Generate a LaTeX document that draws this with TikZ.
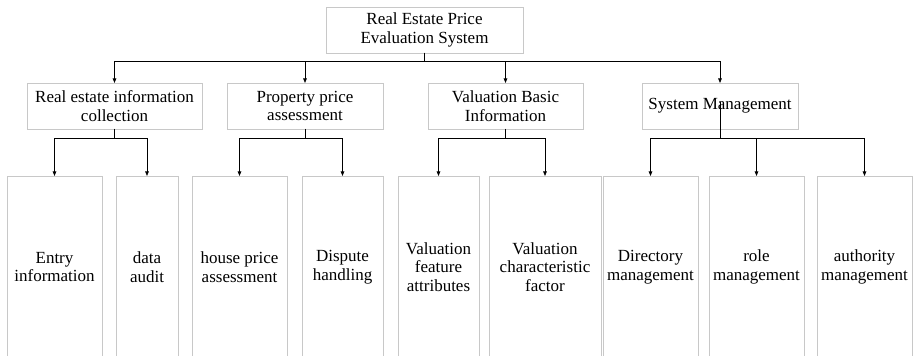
\documentclass[tikz,border=0pt]{standalone}
\usepackage{fontspec}
\setmainfont{Liberation Serif}
\usepackage{tikz}
\usetikzlibrary{arrows.meta, positioning}
\definecolor{boxGray}{HTML}{C8C8C8}

\begin{document}
\begin{tikzpicture}[
    x=1pt, y=1pt,
    box/.style={draw=boxGray, line width=0.8pt, align=center, inner sep=2pt,
                outer sep=0pt, font=\fontsize{17}{18.7}\selectfont},
    module/.style={box, minimum height=46pt},
    leaf/.style={box, minimum height=182pt},
    arrow/.style={-{Triangle[length=4.5pt, width=3.5pt]}, line width=0.8pt},
]
\useasboundingbox (0,0) rectangle (913,356);
\clip (0,0) rectangle (913,356);

% System
\node[box, minimum width=197pt, minimum height=46pt] at (424.5,326)
    (root) {Real Estate Price\\Evaluation System};

% Modules
\node[module, minimum width=175pt] at (114.5,250)
    (info) {Real estate information\\collection};
\node[module, minimum width=156pt, right=25pt of info]
    (price) {Property price\\assessment};
\node[module, minimum width=155pt, right=45pt of price]
    (basic) {Valuation Basic\\Information};
\node[module, minimum width=156pt, right=59pt of basic]
    (sys) {System Management};

% Functions
\node[leaf, minimum width=95pt] at (54.5,89) (entry) {Entry\\information};
\node[leaf, minimum width=62pt, right=14pt of entry] (audit) {data\\audit};
\node[leaf, minimum width=95pt, right=14pt of audit] (house) {house price\\assessment};
\node[leaf, minimum width=81pt, right=15pt of house] (dispute) {Dispute\\handling};
\node[leaf, minimum width=81pt, right=15pt of dispute]
    (feature) {Valuation\\feature\\attributes};
\node[leaf, minimum width=112pt, right=10pt of feature]
    (factor) {Valuation\\characteristic\\factor};
\node[leaf, minimum width=95pt, right=2pt of factor] (directory) {Directory\\management};
\node[leaf, minimum width=95pt, right=11pt of directory] (role) {role\\management};
\node[leaf, minimum width=95pt, right=13pt of role] (authority) {authority\\management};

% Connectors
\foreach \m in {info, price, basic, sys}
    \draw[arrow] (root.south) -- ++(0,-8) -| (\m.north);

\foreach \m/\f in {info/entry, info/audit, price/house, price/dispute,
                   basic/feature, basic/factor}
    \draw[arrow] (\m.south) -- ++(0,-9) -| (\f.north);

\foreach \f in {directory, role, authority}
    \draw[arrow] ([yshift=4pt]sys.center) -- ++(0,-36) -| (\f.north);
\end{tikzpicture}
\end{document}
